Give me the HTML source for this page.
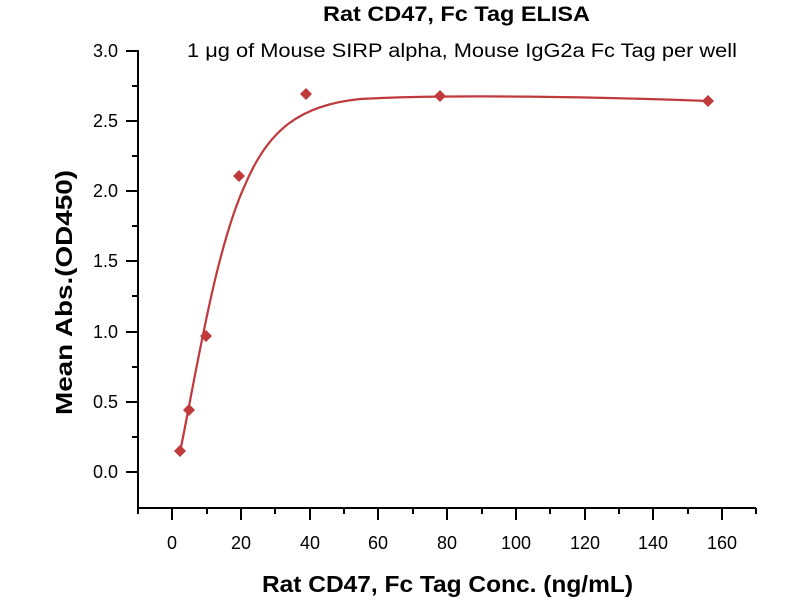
<!DOCTYPE html><html><head><style>body{margin:0;background:#fff}</style></head><body>
<svg width="800" height="600" xmlns="http://www.w3.org/2000/svg" font-family="Liberation Sans, sans-serif">
<text x="323" y="21" font-size="21" font-weight="bold" textLength="267" lengthAdjust="spacingAndGlyphs">Rat CD47, Fc Tag ELISA</text>
<text x="187" y="57" font-size="19" textLength="550" lengthAdjust="spacingAndGlyphs">1 μg of Mouse SIRP alpha, Mouse IgG2a Fc Tag per well</text>
<g stroke="#000" stroke-width="2" fill="none">
<path d="M138,50V508H756"/>
<path d="M126,51h12M132,86h6M126,121h12M132,156h6M126,191h12M132,226h6M126,261h12M132,296h6M126,332h12M132,367h6M126,402h12M132,437h6M126,472h12"/>
<path d="M138,508v6M172,508v12M207,508v6M241,508v12M275,508v6M310,508v12M344,508v6M378,508v12M413,508v6M447,508v12M482,508v6M516,508v12M550,508v6M585,508v12M619,508v6M653,508v12M688,508v6M722,508v12M756,508v6"/>
</g>
<g font-size="18" text-anchor="end">
<text x="118" y="57">3.0</text><text x="118" y="127">2.5</text><text x="118" y="197">2.0</text><text x="118" y="267">1.5</text><text x="118" y="338">1.0</text><text x="118" y="408">0.5</text><text x="118" y="478">0.0</text>
</g>
<g font-size="18" text-anchor="middle">
<text x="172" y="549">0</text><text x="241" y="549">20</text><text x="310" y="549">40</text><text x="378" y="549">60</text><text x="447" y="549">80</text><text x="516" y="549">100</text><text x="585" y="549">120</text><text x="653" y="549">140</text><text x="722" y="549">160</text>
</g>
<text x="262" y="592" font-size="23" font-weight="bold" textLength="371" lengthAdjust="spacingAndGlyphs">Rat CD47, Fc Tag Conc. (ng/mL)</text>
<text transform="translate(72,415) rotate(-90)" font-size="23" font-weight="bold" textLength="245" lengthAdjust="spacingAndGlyphs">Mean Abs.(OD450)</text>
<path d="M180,452 C195,380 215,250 245,185 C268,130 300,105 360,99 C450,94 600,97 708,101" stroke="#c0393b" stroke-width="2.2" fill="none"/>
<g fill="#c0393b">
<path d="M180,445l6,6-6,6-6-6z"/>
<path d="M189,404l6,6-6,6-6-6z"/>
<path d="M206,330l6,6-6,6-6-6z"/>
<path d="M239,170l6,6-6,6-6-6z"/>
<path d="M306,88l6,6-6,6-6-6z"/>
<path d="M440,90l6,6-6,6-6-6z"/>
<path d="M708,95l6,6-6,6-6-6z"/>
</g>
</svg></body></html>
